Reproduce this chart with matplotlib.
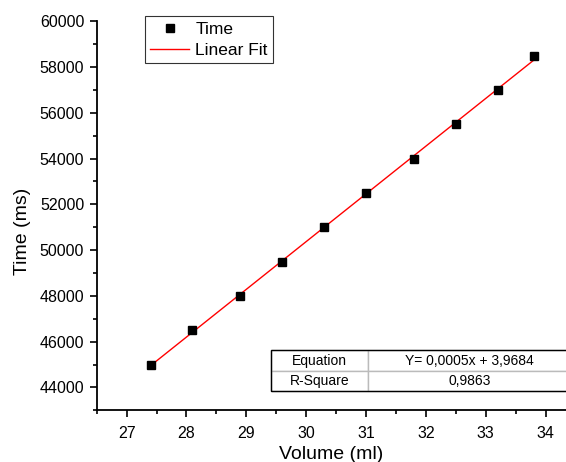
import matplotlib
matplotlib.use("Agg")
import matplotlib.pyplot as plt
import numpy as np
from matplotlib.patches import Rectangle
from matplotlib.ticker import MultipleLocator

plt.rcParams["font.family"] = ["Liberation Sans", "DejaVu Sans"]

# data
volume_ml = [27.4, 28.1, 28.9, 29.6, 30.3, 31.0, 31.8, 32.5, 33.2, 33.8]
time_ms = [45000, 46500, 48000, 49500, 51000, 52500, 54000, 55500, 57000, 58500]
table_labels = ["Equation", "R-Square"]
table_values = ["Y= 0,0005x + 3,9684", "0,9863"]

fig_w, fig_h, dpi = 566, 462, 100
fig = plt.figure(figsize=(fig_w / dpi, fig_h / dpi), dpi=dpi)
ax = fig.add_axes([96.7 / fig_w, 1 - 410.3 / fig_h, (fig_w - 96.7) / fig_w, (410.3 - 21.3) / fig_h])

# linear fit
slope, intercept = np.polyfit(volume_ml, time_ms, 1)
x_fit = np.array([min(volume_ml), max(volume_ml)])
ax.plot(x_fit, slope * x_fit + intercept, color="red", lw=1.0, label="Linear Fit", zorder=2)
ax.plot(volume_ml, time_ms, ls="none", marker="s", ms=6.3, color="black", label="Time", zorder=3)

ax.set_xlim(26.5, 34.34)
ax.set_ylim(43000, 60000)
ax.xaxis.set_major_locator(MultipleLocator(1))
ax.xaxis.set_minor_locator(MultipleLocator(0.5))
ax.yaxis.set_major_locator(MultipleLocator(2000))
ax.yaxis.set_minor_locator(MultipleLocator(1000))

for side in ["top", "right"]:
    ax.spines[side].set_visible(False)
for side in ["left", "bottom"]:
    ax.spines[side].set_linewidth(1.3)

ax.tick_params(which="major", direction="out", length=5, width=1.2, labelsize=11.5)
ax.tick_params(which="minor", direction="out", length=3, width=1.2)
ax.tick_params(axis="x", which="major", pad=6)
ax.tick_params(axis="y", which="major", pad=4)

ax.set_xlabel("Volume (ml)", fontsize=14, labelpad=4)
ax.set_ylabel("Time (ms)", fontsize=14)
ax.yaxis.set_label_coords(-0.141, 0.46)

handles, labels = ax.get_legend_handles_labels()
leg = ax.legend(handles[::-1], labels[::-1], loc="upper left", bbox_to_anchor=(48 / 469.3, 1.013),
                fontsize=12.5, frameon=True, fancybox=False, edgecolor="black",
                borderpad=0.32, labelspacing=0.33, handlelength=2.25, handletextpad=0.35,
                borderaxespad=0)
leg.get_frame().set_linewidth(0.8)

# result table
tx0, ty0, tw, th = 0.3708, 0.0488, 0.64, 0.1054
tbl = ax.table(cellText=[[table_labels[i], table_values[i]] for i in range(2)],
               cellLoc="center", colWidths=[0.323, 0.677],
               bbox=[tx0, ty0, tw, th])
tbl.auto_set_font_size(False)
tbl.set_fontsize(10)
for cell in tbl.get_celld().values():
    cell.set_edgecolor("#bbbbbb")
    cell.set_linewidth(1.0)
ax.add_patch(Rectangle((tx0, ty0), tw, th, transform=ax.transAxes, fill=False,
                       edgecolor="black", lw=1.0, clip_on=False, zorder=5))

fig.savefig("out.png", dpi=dpi)
